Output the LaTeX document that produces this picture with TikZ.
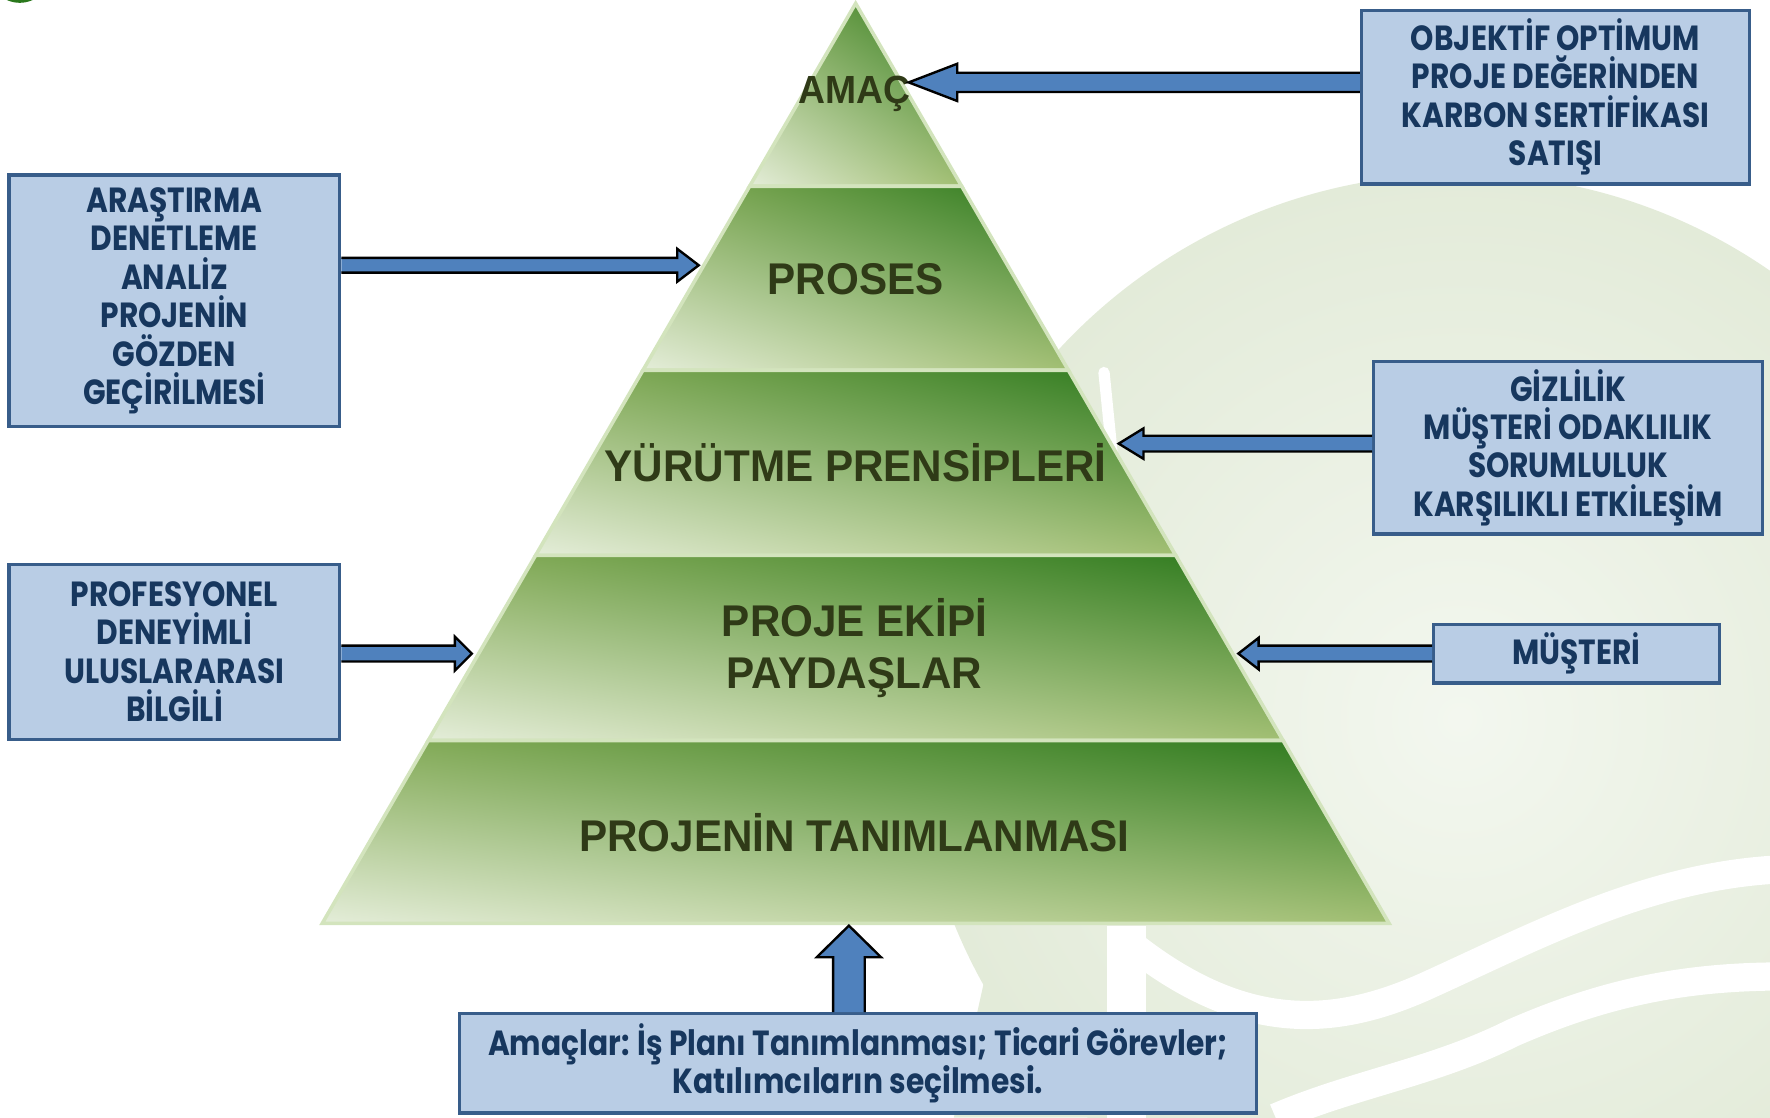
\documentclass[tikz,border=0pt]{standalone}
\usepackage{fontspec}
\setmainfont{Liberation Sans}
\newfontfamily\boxfont{Poppins}[FakeStretch=0.85]
\newfontfamily\tierfont{Liberation Sans}[FakeStretch=0.95]
\usetikzlibrary{calc, shadings, positioning}

\definecolor{boxfill}{HTML}{B9CDE5}
\definecolor{boxline}{HTML}{385D8A}
\definecolor{boxtext}{HTML}{17375E}
\definecolor{arrowblue}{HTML}{4F81BD}
\definecolor{pyrtext}{HTML}{2F3A17}
\definecolor{gdark}{HTML}{2A781C}
\definecolor{gmid}{HTML}{8BAF5D}
\definecolor{glight}{HTML}{E4EDD9}
\definecolor{gright}{HTML}{A2BF73}
\definecolor{gedge}{HTML}{D3E4BD}
\definecolor{wmark}{HTML}{E3EBD9}
\definecolor{wmarkin}{HTML}{F3F7EF}

\tikzset{
  infobox/.style={draw=boxline, line width=0.8pt, fill=boxfill, text=boxtext, align=center, inner sep=0pt, font=\boxfont\bfseries\fontsize{8.8}{9.7}\selectfont},
  tierlabel/.style={text=pyrtext, align=center, font=\tierfont\bfseries\fontsize{11.2}{13.1}\selectfont},
  tier/.style={upper left=gmid, upper right=gdark, lower left=glight, lower right=gright, draw=gedge, line width=0.9pt},
  arrowbody/.style={fill=arrowblue, draw=black, line width=0.6pt, line join=miter}
}

% block arrow: start, tip, shaft half width, head half width, head length
\newcommand{\fatarrow}[5]{%
  \coordinate (fa-base) at ($(#2)!#5!(#1)$);
  \draw[arrowbody] ($(#1)!#3!90:(#2)$) -- ($(fa-base)!#3!90:(#2)$) -- ($(fa-base)!#4!90:(#2)$) -- (#2) -- ($(fa-base)!#4!-90:(#2)$) -- ($(fa-base)!#3!-90:(#2)$) -- ($(#1)!#3!-90:(#2)$);
}

\begin{document}
\begin{tikzpicture}
	\useasboundingbox (0,0) rectangle (15.68,9.90);
	% watermark
	\fill[gdark] (0.175,10.15) circle (0.275);
	\fill[wmark] (8.45,0) -- (8.85,1.8) -- (11.2,1.8) -- (11.2,0) -- cycle;
	\shade[inner color=wmarkin, outer color=wmark] (12.93,3.53) circle (4.83);
	\draw[white, line width=0.35cm] (9.98,0) -- (9.98,1.7);
	\draw[white, line width=0.25cm] (10.0,1.55) .. controls (11.0,0.75) and (11.8,0.8) .. (12.6,1.15) .. controls (13.6,1.6) and (14.6,2.15) .. (15.8,2.2);
	\draw[white, line width=0.25cm] (11.3,0) .. controls (12.0,0.3) and (12.7,0.4) .. (13.4,0.75) .. controls (14.2,1.1) and (14.9,1.25) .. (15.8,1.25);
	\draw[white, line width=0.1cm, line cap=round] (9.78,6.6) -- (9.92,5.2);

	% pyramid
	\foreach \yt/\yb in {9.87/8.25, 8.25/6.62, 6.62/4.98, 4.98/3.34, 3.34/1.72}
		\shadedraw[tier] ({7.58-0.5798*(9.87-\yt)},\yt) -- ({7.58+0.5798*(9.87-\yt)},\yt) -- ({7.58+0.5798*(9.87-\yb)},\yb) -- ({7.58-0.5798*(9.87-\yb)},\yb) -- cycle;
	\node[tierlabel, font=\tierfont\bfseries\fontsize{9.9}{12}\selectfont] (amac) at (7.57,9.07) {AMAÇ};
	\node[tierlabel] (proses) at (7.58,7.43) {PROSES};
	\node[tierlabel] (yurutme) at (7.58,5.80) {YÜRÜTME PRENSİPLERİ};
	\node[tierlabel] (ekip) at (7.57,4.16) {PROJE EKİPİ\\PAYDAŞLAR};
	\node[tierlabel] (tanim) at (7.57,2.52) {PROJENİN TANIMLANMASI};

	% boxes
	\node[infobox, minimum width=2.93cm, minimum height=2.23cm] (arastirma) at (1.545,7.235) {ARAŞTIRMA\\DENETLEME\\ANALİZ\\PROJENİN\\GÖZDEN\\GEÇİRİLMESİ};
	\node[infobox, minimum width=2.93cm, minimum height=1.55cm] (profesyonel) at (1.545,4.125) {PROFESYONEL\\DENEYİMLİ\\ULUSLARARASI\\BİLGİLİ};
	\node[infobox, minimum width=3.44cm, minimum height=1.54cm] (objektif) at (13.78,9.04) {OBJEKTİF OPTİMUM\\PROJE DEĞERİNDEN\\KARBON SERTİFİKASI\\SATIŞI};
	\node[infobox, minimum width=3.44cm, minimum height=1.53cm] (gizlilik) at (13.89,5.935) {GİZLİLİK\\MÜŞTERİ ODAKLILIK\\SORUMLULUK\\KARŞILIKLI ETKİLEŞİM};
	\node[infobox, minimum width=2.53cm, minimum height=0.52cm] (musteri) at (13.965,4.11) {MÜŞTERİ};
	\node[infobox, minimum width=7.06cm, minimum height=0.88cm] (amaclar) at (7.60,0.48) {Amaçlar: İş Planı Tanımlanması; Ticari Görevler;\\Katılımcıların seçilmesi.};

	% arrows
	\coordinate (tipProses) at (6.19,7.55); \coordinate (fromArastirma) at (arastirma.east |- tipProses);
	\coordinate (tipEkip) at (4.18,4.11); \coordinate (fromProfesyonel) at (profesyonel.east |- tipEkip);
	\coordinate (tipAmac) at (8.05,9.17); \coordinate (fromObjektif) at (objektif.west |- tipAmac);
	\coordinate (tipYurutme) at (9.91,5.97); \coordinate (fromGizlilik) at (gizlilik.west |- tipYurutme);
	\coordinate (tipMusteri) at (10.97,4.11); \coordinate (fromMusteri) at (musteri.west |- tipMusteri);
	\coordinate (tipTanim) at (7.52,1.70); \coordinate (fromAmaclar) at (amaclar.north -| tipTanim);
	\fatarrow{fromArastirma}{tipProses}{0.065cm}{0.145cm}{0.19cm}
	\fatarrow{fromProfesyonel}{tipEkip}{0.07cm}{0.15cm}{0.15cm}
	\fatarrow{fromObjektif}{tipAmac}{0.085cm}{0.165cm}{0.43cm}
	\fatarrow{fromGizlilik}{tipYurutme}{0.07cm}{0.135cm}{0.22cm}
	\fatarrow{fromMusteri}{tipMusteri}{0.07cm}{0.14cm}{0.18cm}
	\fatarrow{fromAmaclar}{tipTanim}{0.14cm}{0.285cm}{0.28cm}
\end{tikzpicture}
\end{document}
